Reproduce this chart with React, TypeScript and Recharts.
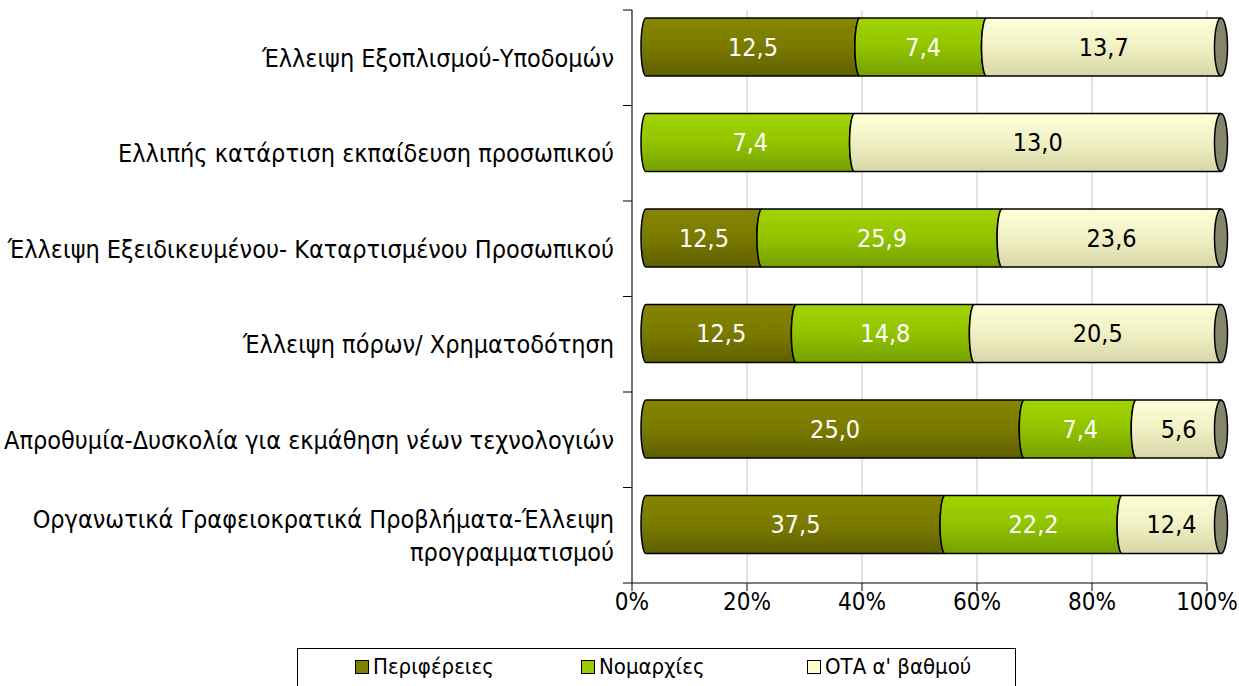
import React from 'react';
import { BarChart, Bar, XAxis, YAxis, CartesianGrid, LabelList } from 'recharts';

const categories = [
  'Έλλειψη Εξοπλισμού-Υποδομών',
  'Ελλιπής κατάρτιση εκπαίδευση προσωπικού',
  'Έλλειψη Εξειδικευμένου- Καταρτισμένου Προσωπικού',
  'Έλλειψη πόρων/ Χρηματοδότηση',
  'Απροθυμία-Δυσκολία για εκμάθηση νέων τεχνολογιών',
  'Οργανωτικά Γραφειοκρατικά Προβλήματα-Έλλειψη\nπρογραμματισμού',
];
const periferies = [12.5, 0, 12.5, 12.5, 25.0, 37.5];
const nomarxies = [7.4, 7.4, 25.9, 14.8, 7.4, 22.2];
const ota = [13.7, 13.0, 23.6, 20.5, 5.6, 12.4];
const xTicks = [0, 0.2, 0.4, 0.6, 0.8, 1];

const data = categories.map((name, i) => ({
  name,
  per: periferies[i],
  nom: nomarxies[i],
  ota: ota[i],
}));

const W = 1239;
const H = 686;
const TOP = 10;
const PLOT_BOTTOM = 583;
const AXIS_LEFT = 632;
const AXIS_RIGHT = 1207;
const BAND = (PLOT_BOTTOM - TOP) / categories.length;
const DX = 14;
const DY = -11;
const FONT = "'DejaVu Sans Condensed', 'DejaVu Sans', sans-serif";

const series = [
  { key: 'per', name: 'Περιφέρειες', grad: 'gPer', swatch: '#808000', text: '#ffffff' },
  { key: 'nom', name: 'Νομαρχίες', grad: 'gNom', swatch: '#99cc00', text: '#ffffff' },
  { key: 'ota', name: "ΟΤΑ α' βαθμού", grad: 'gOta', swatch: '#ffffcc', text: '#000000' },
];

const makeShape = (grad: string, last: boolean) => (props: any) => {
  const { x, y, width, height } = props;
  if (!width || width <= 0) return <g />;
  const x0 = x + DX;
  const y0 = y + DY;
  const rx = 5;
  const ry = height / 2;
  const d = `M${x0},${y0} L${x0 + width},${y0} A${rx},${ry} 0 0 0 ${x0 + width},${y0 + height} L${x0},${y0 + height} A${rx},${ry} 0 0 1 ${x0},${y0} Z`;
  return (
    <g>
      <path d={d} fill={`url(#${grad})`} stroke="#000" strokeWidth={1.5} />
      {last && (
        <ellipse cx={x0 + width} cy={y0 + ry} rx={6.5} ry={ry} fill="#85856b" stroke="#000" strokeWidth={1.5} />
      )}
    </g>
  );
};

const makeLabel = (color: string) => (props: any) => {
  const { x, y, width, height, value } = props;
  if (!value) return null;
  return (
    <text
      x={x + width / 2 + DX}
      y={y + height / 2 + DY}
      textAnchor="middle"
      dominantBaseline="central"
      fill={color}
      fontSize={25}
      fontFamily={FONT}
    >
      {Number(value).toFixed(1).replace('.', ',')}
    </text>
  );
};

const CategoryTick = (props: any) => {
  const { x, y, payload, index } = props;
  const lines = String(payload.value).split('\n');
  const lh = 33;
  const startY = y - ((lines.length - 1) * lh) / 2;
  return (
    <g>
      <line x1={AXIS_LEFT - 9} x2={AXIS_LEFT} y1={y - BAND / 2} y2={y - BAND / 2} stroke="#000" />
      {index === categories.length - 1 && (
        <line x1={AXIS_LEFT - 9} x2={AXIS_LEFT} y1={y + BAND / 2} y2={y + BAND / 2} stroke="#000" />
      )}
      <text x={x - 10} y={startY} textAnchor="end" fontSize={25} fontFamily={FONT} fill="#000">
        {lines.map((l, i) => (
          <tspan key={i} x={x - 10} y={startY + i * lh} dy="0.35em">
            {l}
          </tspan>
        ))}
      </text>
    </g>
  );
};

export default function App() {
  return (
    <div style={{ position: 'absolute', left: 0, top: 0, width: W, height: H, background: '#fff', overflow: 'hidden' }}>
      <BarChart
        width={W}
        height={H}
        data={data}
        layout="vertical"
        stackOffset="expand"
        barSize={58}
        margin={{ top: TOP, right: W - AXIS_RIGHT, left: 0, bottom: H - PLOT_BOTTOM - 40 }}
      >
        <defs>
          <linearGradient id="gPer" x1="0" y1="0" x2="0" y2="1">
            <stop offset="0%" stopColor="#868600" />
            <stop offset="50%" stopColor="#7a7a00" />
            <stop offset="100%" stopColor="#5f5f00" />
          </linearGradient>
          <linearGradient id="gNom" x1="0" y1="0" x2="0" y2="1">
            <stop offset="0%" stopColor="#a2d400" />
            <stop offset="50%" stopColor="#92c300" />
            <stop offset="100%" stopColor="#74a000" />
          </linearGradient>
          <linearGradient id="gOta" x1="0" y1="0" x2="0" y2="1">
            <stop offset="0%" stopColor="#ffffd8" />
            <stop offset="50%" stopColor="#f0f0c4" />
            <stop offset="100%" stopColor="#d6d6a8" />
          </linearGradient>
        </defs>
        <CartesianGrid horizontal={false} stroke="#c8c8c8" />
        <XAxis
          type="number"
          domain={[0, 1]}
          ticks={xTicks}
          tickFormatter={(v: number) => `${Math.round(v * 100)}%`}
          tick={{ fontSize: 24, fontFamily: FONT, fill: '#000' }}
          tickLine={{ stroke: '#000' }}
          axisLine={{ stroke: '#000' }}
          tickSize={8}
          height={40}
          interval={0}
        />
        <XAxis
          xAxisId="top"
          orientation="top"
          type="number"
          domain={[0, 1]}
          tick={false}
          tickLine={false}
          axisLine={{ stroke: '#808080' }}
          height={0}
        />
        <YAxis
          type="category"
          dataKey="name"
          width={AXIS_LEFT}
          tick={<CategoryTick />}
          tickLine={false}
          axisLine={{ stroke: '#000' }}
          interval={0}
        />
        <YAxis
          yAxisId="right"
          orientation="right"
          type="category"
          dataKey="name"
          width={0}
          tick={false}
          tickLine={false}
          axisLine={{ stroke: '#808080' }}
        />
        {series.map((s, i) => (
          <Bar
            key={s.key}
            dataKey={s.key}
            name={s.name}
            stackId="a"
            isAnimationActive={false}
            shape={makeShape(s.grad, i === series.length - 1)}
          >
            <LabelList dataKey={s.key} content={makeLabel(s.text)} />
          </Bar>
        ))}
      </BarChart>
      <div
        style={{
          position: 'absolute',
          left: 297,
          top: 648,
          width: 719,
          height: 50,
          border: '1px solid #000',
          boxSizing: 'border-box',
          background: '#fff',
          fontFamily: FONT,
          fontSize: 22,
        }}
      >
        {series.map((s, i) => (
          <div
            key={s.key}
            style={{ position: 'absolute', left: [57, 283, 509][i], top: 5, display: 'flex', alignItems: 'center' }}
          >
            <span
              style={{
                display: 'inline-block',
                width: 12,
                height: 12,
                background: s.swatch,
                border: '1.5px solid #000',
                marginRight: 4,
              }}
            />
            <span>{s.name}</span>
          </div>
        ))}
      </div>
    </div>
  );
}
